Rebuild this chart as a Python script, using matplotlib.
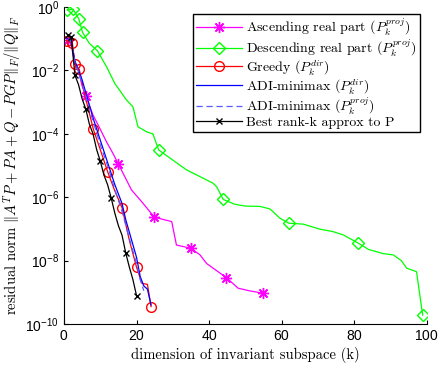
import numpy as np
import matplotlib
matplotlib.use("Agg")
import matplotlib.pyplot as plt

plt.rcParams['font.family'] = ['cmr10', 'DejaVu Serif']
plt.rcParams['mathtext.fontset'] = 'cm'
plt.rcParams['axes.formatter.use_mathtext'] = True

# --- data (x = dimension k, y = log10 of residual) ---
asc_k = [1.1, 2, 3, 4, 5, 6.0, 8.0, 9.4, 11.7, 13.5, 15.0, 16.3, 18.6, 21.4, 24.9,
         29.7, 31.0, 35.0, 37.5, 39.3, 44.8, 48.0, 51, 54.9]
asc_log = [-1.04, -1.2, -1.8, -2.0, -2.5, -2.80, -3.41, -3.72, -4.25, -4.62, -4.96, -5.25,
           -5.77, -6.14, -6.63, -6.77, -7.51, -7.61, -7.82, -8.09, -8.54, -8.87, -8.95, -9.03]
asc_marks = [0, 5, 10, 14, 17, 20, 23]

desc_k = [0.9, 2.5, 4.1, 5.1, 7, 9.2, 11.7, 14.0, 17.2, 19.0, 20.4, 23.0, 24.5, 26.1,
          30.0, 33.8, 36.6, 41.1, 42.1, 43.9, 47, 50, 54, 56.8, 59.5, 62.0, 66, 68,
          70.6, 74, 77, 81.0, 84, 86.2, 88, 90.8, 93, 94.5, 97.2, 98.9]
desc_log = [-0.095, -0.07, -0.38, -0.80, -1.15, -1.38, -1.88, -2.41, -2.93, -3.15, -3.78,
            -3.95, -4.0, -4.51, -4.83, -5.14, -5.30, -5.56, -5.67, -6.07, -6.22, -6.28,
            -6.29, -6.37, -6.66, -6.82, -6.85, -6.92, -7.01, -7.08, -7.19, -7.44, -7.65,
            -7.72, -7.78, -7.82, -8.0, -8.24, -8.35, -9.72]
desc_marks = [0, 1, 2, 3, 5, 13, 19, 25, 31, 39]

greedy_k = [0.7, 2.3, 3.0, 4.2, 6, 8.1, 10, 12.1, 14, 16.0, 18, 20.0, 21.5, 23, 24.0]
greedy_log = [-1.06, -1.13, -1.81, -1.97, -2.9, -3.86, -4.5, -5.22, -5.8, -6.33, -7.35,
              -8.21, -8.72, -8.75, -9.45]
greedy_marks = [0, 1, 2, 3, 5, 7, 9, 11, 14]

adi_dir_k = [1, 2, 3, 4, 5, 6, 8, 10, 12, 14, 16, 17, 18, 19, 20, 21, 22, 23, 24]
adi_dir_log = [-1.0, -1.1, -1.7, -2.0, -2.3, -2.7, -3.5, -4.2, -4.9, -5.6, -6.2, -6.7,
               -7.1, -7.5, -7.9, -8.5, -8.8, -8.9, -9.4]

adi_proj_k = [1, 2, 3, 4, 6, 8, 10, 12, 14, 16, 18, 19, 20, 21, 22]
adi_proj_log = [-1.0, -1.1, -1.75, -2.05, -2.8, -3.6, -4.35, -5.0, -5.75, -6.45, -7.3,
                -7.7, -8.1, -8.6, -8.95]

best_k = [1, 2, 3, 4, 5, 6, 7, 8, 9, 10, 11, 12, 13, 14, 15, 16, 17, 18, 19, 20]
best_log = [-0.88, -0.95, -2.15, -2.45, -2.9, -3.22, -3.7, -4.0, -4.5, -4.86, -5.3, -5.6,
            -6.02, -6.5, -6.9, -7.2, -7.75, -8.2, -8.6, -9.11]
best_marks = [0, 1, 2, 5, 9, 12, 16, 19]

labels = [r'Ascending real part ($P_k^{proj}$)',
          r'Descending real part ($P_k^{proj}$)',
          r'Greedy ($P_k^{dir}$)',
          r'ADI-minimax ($P_k^{dir}$)',
          r'ADI-minimax ($P_k^{proj}$)',
          'Best rank-k approx to P']

fig = plt.figure(figsize=(4.4, 3.71), dpi=100)
ax = fig.add_axes([0.1455, 0.1267, 0.8242, 0.8544])

lw = 0.9
ax.semilogy(asc_k, 10.0 ** np.array(asc_log), color='#ff00ff', lw=lw, marker=(8, 2, 0),
            ms=8, mew=1.0, markevery=asc_marks, label=labels[0])
ax.semilogy(desc_k, 10.0 ** np.array(desc_log), color='#00ff00', lw=lw, marker='D',
            ms=6, mfc='none', markevery=desc_marks, label=labels[1])
ax.semilogy(greedy_k, 10.0 ** np.array(greedy_log), color='#ff0000', lw=lw, marker='o',
            ms=7, mfc='none', markevery=greedy_marks, label=labels[2])
ax.semilogy(adi_dir_k, 10.0 ** np.array(adi_dir_log), color='#0000ff', lw=lw,
            label=labels[3])
ax.semilogy(adi_proj_k, 10.0 ** np.array(adi_proj_log), color='#5a5aff', lw=lw,
            ls=(0, (5, 3)), label=labels[4])
ax.semilogy(best_k, 10.0 ** np.array(best_log), color='black', lw=lw, marker='x',
            ms=5, markevery=best_marks, label=labels[5])

ax.set_xlim(0, 100)
ax.set_ylim(1e-10, 1e0)
ax.set_xticks([0, 20, 40, 60, 80, 100])
ax.set_yticks([1e-10, 1e-8, 1e-6, 1e-4, 1e-2, 1e0])
ax.minorticks_off()
ax.tick_params(direction='in', length=3, labelsize=10, labelfontfamily='Liberation Sans')
for s in ['top', 'right']:
    ax.spines[s].set_visible(False)

ax.set_xlabel('dimension of invariant subspace (k)', fontsize=10.5, labelpad=3)
ax.set_ylabel(r'residual norm $\|A^TP + PA + Q - PGP\|_F/\|Q\|_F$', fontsize=10.5,
              labelpad=2)

leg = ax.legend(loc='upper right', bbox_to_anchor=(0.981, 0.978), borderaxespad=0,
                fontsize=10, handlelength=3.3, handletextpad=0.3, labelspacing=0.0,
                borderpad=0.2, fancybox=False, framealpha=1, edgecolor='black')
leg.get_frame().set_linewidth(1.0)

fig.savefig('out.png', dpi=100)
